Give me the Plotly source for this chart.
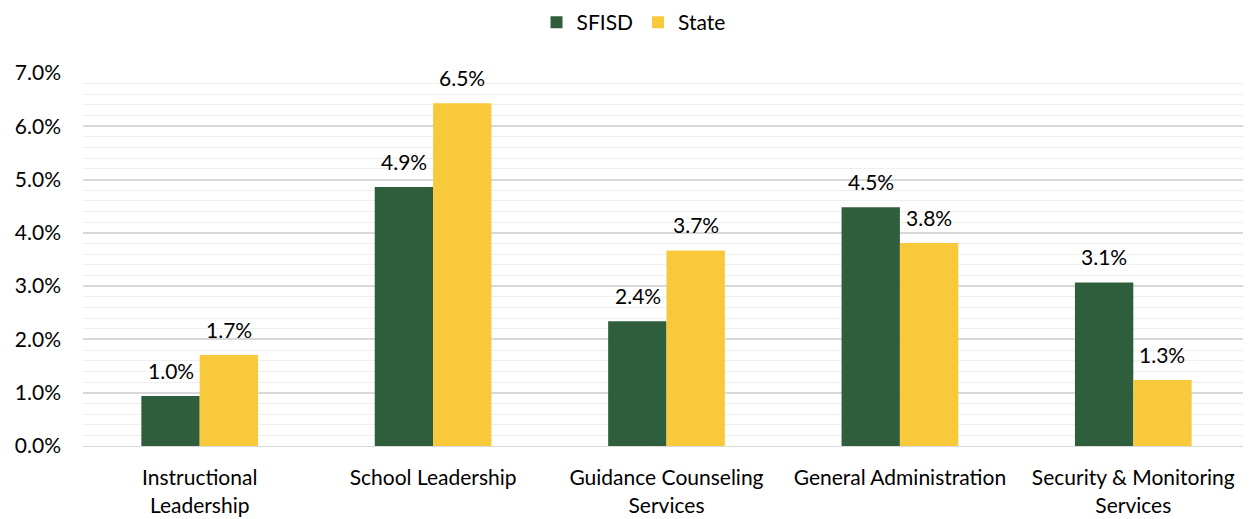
import plotly.graph_objects as go

categories = ["Instructional<br>Leadership", "School Leadership", "Guidance Counseling<br>Services",
              "General Administration", "Security & Monitoring<br>Services"]
sfisd = [0.94, 4.86, 2.34, 4.48, 3.07]
state = [1.71, 6.43, 3.67, 3.81, 1.24]
sfisd_labels = ["1.0%", "4.9%", "2.4%", "4.5%", "3.1%"]
state_labels = ["1.7%", "6.5%", "3.7%", "3.8%", "1.3%"]
yticks = [0, 1, 2, 3, 4, 5, 6, 7]
ytick_text = ["0.0%", "1.0%", "2.0%", "3.0%", "4.0%", "5.0%", "6.0%", "7.0%"]

FONT = "Lato"
FS = 21
GREEN = "#2E5E3B"
YELLOW = "#F8C93A"
fig = go.Figure()
fig.add_trace(go.Bar(name="SFISD", x=categories, y=sfisd, marker_color=GREEN,
                     marker_line=dict(width=0)))
fig.add_trace(go.Bar(name="State", x=categories, y=state, marker_color=YELLOW,
                     marker_line=dict(width=0)))

for vals, labels, shift in ((sfisd, sfisd_labels, -29), (state, state_labels, 29)):
    for c, v, t in zip(categories, vals, labels):
        fig.add_annotation(x=c, y=v, text=t, showarrow=False, xshift=shift, yshift=11,
                           yanchor="bottom", font=dict(size=FS, color="#000000", family=FONT))

fig.update_layout(
    width=1251, height=519,
    margin=dict(l=75, r=9, t=65, b=81, autoexpand=False),
    barmode="group", bargap=0.5, bargroupgap=0,
    plot_bgcolor="white", paper_bgcolor="white",
    font=dict(family=FONT, size=FS, color="#000000"),
    legend=dict(orientation="h", x=0.5, xanchor="center", xref="container",
                y=1.19, yanchor="top", yref="paper",
                font=dict(size=FS), traceorder="normal", itemwidth=30),
    xaxis=dict(showgrid=False, showline=True, linecolor="#D9D9D9", linewidth=1,
               tickfont=dict(size=FS), ticks="", automargin=False, ticklabelstandoff=13),
    yaxis=dict(range=[0, 7], tickvals=yticks, ticktext=ytick_text,
               showgrid=True, gridcolor="#D9D9D9", gridwidth=1.5, zeroline=False,
               tickfont=dict(size=FS), ticks="", automargin=False, ticklabelstandoff=21,
               minor=dict(dtick=0.2, showgrid=True, gridcolor="#EFEFEF", gridwidth=1)),
)
fig.write_html("out.html")
